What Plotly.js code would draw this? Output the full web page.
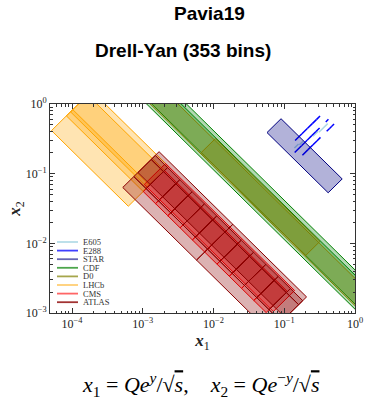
<!DOCTYPE html>
<html><head><meta charset="utf-8">
<script src="https://cdn.plot.ly/plotly-3.0.1.min.js"></script>
<style>html,body{margin:0;padding:0;background:#fff}</style>
</head><body><div id="chart" style="width:365px;height:402px"></div>
<script>
// ---------------- data ----------------
const experiments = ['E605','E288','STAR','CDF','D0','LHCb','CMS','ATLAS'];

// E605: sqrt(s)=38.8 GeV, one rapidity value per Q bin
const E605_rootS = [38.8];
const E605_Qbins = [[7,8],[8,9],[10.5,11.5],[11.5,13.5],[13.5,18]];
const E605_y = [-0.26,-0.23,-0.18,-0.15,-0.12];

// E288: three beam energies, one rapidity each
const E288_rootS = [19.4, 23.8, 27.4];
const E288_y = [-0.37, -0.18, -0.01];
const E288_Qbins = [
  [[4,5],[5,6],[6,7],[7,8],[8,9]],
  [[4,5],[5,6],[6,7],[7,8],[8,9],[11,12]],
  [[5,6],[6,7],[7,8],[8,9],[11,12],[12,13],[13,14]]
];

// STAR
const STAR_rootS = [510];
const STAR_Q = [[76,120]];
const STAR_yEdges = [[-0.96,1.03]];

// CDF (Run I, Run II)
const CDF_rootS = [1800, 1960];
const CDF_Q = [[66,116],[66,116]];
const CDF_yEdges = [[-3.5,3.5],[-3.5,3.5]];

// D0 (Run II full rapidity, Run I central)
const D0_rootS = [1960, 1800];
const D0_Q = [[70,110],[66,105]];
const D0_yEdges = [[-3.5,3.5],[-1.7,1.7]];

// LHCb (7, 8, 13 TeV)
const LHCb_rootS = [7000, 8000, 13000];
const LHCb_Q = [[60,120],[60,120],[60,120]];
const LHCb_yEdges = [[-4.5,-2.0],[-4.5,-2.0],[-4.5,-2.0]];

// CMS (7, 8 TeV)
const CMS_rootS = [7000, 8000];
const CMS_Q = [[60,120],[60,120]];
const CMS_yEdges = [[-2.1,2.1],[-2.0,-1.6,-1.2,-0.8,-0.4,0,0.4,0.8,1.2,1.6,2.0]];

// ATLAS (7 TeV; 8 TeV off-peak low, on-peak, off-peak high)
const ATLAS_rootS = [7000, 8000, 8000, 8000];
const ATLAS_Q = [[66,116],[46,66],[66,116],[116,150]];
const ATLAS_yEdges = [
  [-2.4,-2.0,-1.6,-1.2,-0.8,-0.4,0,0.4,0.8,1.2,1.6,2.0,2.4],
  [-2.4,0,2.4],
  [-2.4,-2.0,-1.6,-1.2,-0.8,-0.4,0,0.4,0.8,1.2,1.6,2.0,2.4],
  [-2.4,0,2.4]
];

// ---------------- styles ----------------
const lineColor = {E605:'#add8e6', E288:'#0000ff', STAR:'#000080', CDF:'#008000',
                   D0:'#808000', LHCb:'#ffa500', CMS:'#ff0000', ATLAS:'#8b0000'};
const legendColor = {E605:'rgba(173,216,230,0.9)', E288:'rgba(0,0,255,0.75)', STAR:'rgba(0,0,128,0.6)',
                   CDF:'rgba(0,128,0,0.7)', D0:'rgba(128,128,0,0.7)', LHCb:'rgba(255,165,0,0.55)',
                   CMS:'rgba(255,0,0,0.6)', ATLAS:'rgba(139,0,0,0.8)'};
function rgba(hex, a){
  const n = parseInt(hex.slice(1),16);
  return 'rgba('+((n>>16)&255)+','+((n>>8)&255)+','+(n&255)+','+a+')';
}

const traces = [];
function addBin(exp, rootS, Qa, Qb, ya, yb, lw){
  const pts = [[Qa,ya],[Qb,ya],[Qb,yb],[Qa,yb],[Qa,ya]];
  const xs = pts.map(p => p[0]/rootS*Math.exp(p[1]));
  const ys = pts.map(p => p[0]/rootS*Math.exp(-p[1]));
  traces.push({type:'scatter', mode:'lines', x:xs, y:ys, fill:'toself',
    fillcolor: rgba(lineColor[exp], 0.3), line:{color:lineColor[exp], width:lw},
    hoverinfo:'skip', showlegend:false});
}
function addSets(exp, rootS, Q, yEdges){
  rootS.forEach((rs,i) => {
    const e = yEdges[i];
    for(let k=0;k<e.length-1;k++) addBin(exp, rs, Q[i][0], Q[i][1], e[k], e[k+1], 1);
  });
}
E605_Qbins.forEach((q,i) => addBin('E605', E605_rootS[0], q[0], q[1], E605_y[i], E605_y[i], 1.5));
E288_rootS.forEach((rs,i) => E288_Qbins[i].forEach(q => addBin('E288', rs, q[0], q[1], E288_y[i], E288_y[i], 1.5)));
addSets('STAR', STAR_rootS, STAR_Q, STAR_yEdges);
addSets('CDF', CDF_rootS, CDF_Q, CDF_yEdges);
addSets('D0', D0_rootS, D0_Q, D0_yEdges);
addSets('LHCb', LHCb_rootS, LHCb_Q, LHCb_yEdges);
addSets('CMS', CMS_rootS, CMS_Q, CMS_yEdges);
addSets('ATLAS', ATLAS_rootS, ATLAS_Q, ATLAS_yEdges);

// ---------------- axes ----------------
const majorVals = [1e-4,1e-3,1e-2,1e-1,1];
const majorText = ['10<sup>−4</sup>','10<sup>−3</sup>','10<sup>−2</sup>','10<sup>−1</sup>','10<sup>0</sup>'];
const minorX = [], minorY = [];
for(let d=-5; d<0; d++) for(let m=2; m<10; m++){
  const v = m*Math.pow(10,d);
  minorX.push(v); if(d>=-3) minorY.push(v);
}
const tickFont = {family:'Liberation Serif, DejaVu Serif, serif', size:12, color:'#222'};
function axis(minorVals, range, titleText, standoff){
  return {type:'log', range:range, tickmode:'array', tickvals:majorVals, ticktext:majorText,
    ticks:'inside', ticklen:5, tickwidth:1, tickcolor:'#333', showline:true, linecolor:'#333',
    linewidth:1, mirror:'ticks', showgrid:false, zeroline:false, tickfont:tickFont,
    minor:{tickmode:'array', tickvals:minorVals, ticks:'inside', ticklen:2.5, tickwidth:1, tickcolor:'#333', showgrid:false},
    title:{text:titleText, standoff:standoff, font:{family:'Liberation Serif, DejaVu Serif, serif', size:17, color:'#222'}}};
}

// ---------------- legend (drawn manually) ----------------
const shapes = [], annotations = [];
const plotL = 50, plotW = 305, plotB = 313, plotH = 209;
experiments.forEach((exp,i) => {
  const py = 242 + 8.6*i;
  const yp = (plotB - py)/plotH;
  shapes.push({type:'line', xref:'paper', yref:'paper', x0:(57-plotL)/plotW, x1:(78-plotL)/plotW,
    y0:yp, y1:yp, line:{color:legendColor[exp], width:1.8}});
  annotations.push({xref:'paper', yref:'paper', x:(81-plotL)/plotW, y:yp, xanchor:'left', yanchor:'middle',
    text:exp, showarrow:false, font:{family:'Liberation Serif, DejaVu Serif, serif', size:8.5, color:'#333'}});
});
annotations.push({xref:'paper', yref:'paper', x:(209-plotL)/plotW, y:(plotB-13)/plotH, xanchor:'center', yanchor:'middle',
  text:'<b>Pavia19</b>', showarrow:false, font:{family:'Liberation Sans, Arial, sans-serif', size:19, color:'#000'}});
annotations.push({xref:'paper', yref:'paper', x:(182.5-plotL)/plotW, y:(plotB-50)/plotH, xanchor:'center', yanchor:'middle',
  text:'<b>Drell-Yan (353 bins)</b>', showarrow:false, font:{family:'Liberation Sans, Arial, sans-serif', size:19, color:'#000'}});
const sq = '√<span style="text-decoration:overline"><i>s</i></span>';
annotations.push({xref:'paper', yref:'paper', x:(200-plotL)/plotW, y:(plotB-384)/plotH, xanchor:'center', yanchor:'middle',
  text:'<i>x</i><sub>1</sub> = <i>Qe</i><sup><i>y</i></sup>/'+sq+',\u00a0\u00a0\u00a0 <i>x</i><sub>2</sub> = <i>Qe</i><sup>−<i>y</i></sup>/'+sq,
  showarrow:false, font:{family:'Liberation Serif, Times New Roman, serif', size:22, color:'#000'}});

const layout = {
  width:365, height:402, margin:{l:50, r:10, t:104, b:89, pad:0},
  paper_bgcolor:'#fff', plot_bgcolor:'#fff', showlegend:false,
  xaxis: axis(minorX, [-4.311, 0], '<b><i>x</i></b><sub>1</sub>', 1),
  yaxis: axis(minorY, [-3, 0], '<b><i>x</i></b><sub>2</sub>', 0),
  shapes: shapes, annotations: annotations
};
Plotly.newPlot('chart', traces, layout, {displayModeBar:false, staticPlot:true});
</script></body></html>
